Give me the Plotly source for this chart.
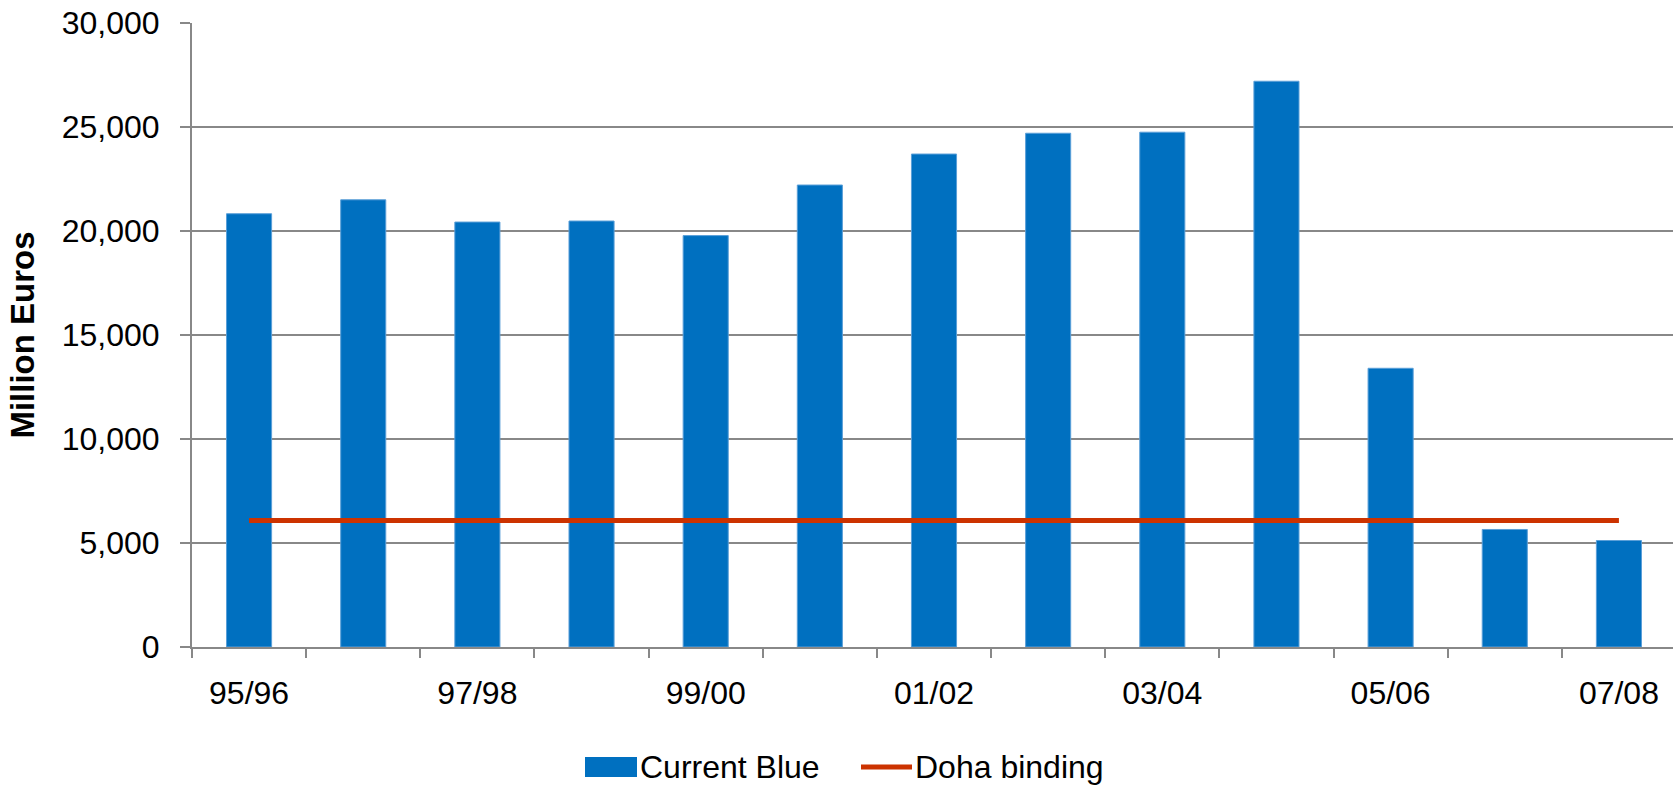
import plotly.graph_objects as go

# ---- data ----
categories = ["95/96", "96/97", "97/98", "98/99", "99/00", "00/01", "01/02",
              "02/03", "03/04", "04/05", "05/06", "06/07", "07/08"]
current_blue = [20830, 21500, 20430, 20480, 19780, 22210, 23700,
                24700, 24750, 27200, 13400, 5650, 5120]
doha_binding = [6080] * len(categories)
y_tick_vals = [0, 5000, 10000, 15000, 20000, 25000, 30000]
series_names = ["Current Blue", "Doha binding"]

BLUE = "#0070C0"
RED = "#CC3300"
GRID = "#888888"
FONT = "Liberation Sans, Arial, sans-serif"

W, H = 1676, 785
L, R, T, B = 192, 0, 23, 138
pw, ph = W - L - R, H - T - B

def px_x(x):
    return (x - L) / pw

def px_y(y):
    return (H - B - y) / ph

xpos = list(range(len(categories)))

fig = go.Figure()
fig.add_trace(go.Bar(
    x=xpos, y=current_blue, name=series_names[0],
    marker=dict(color=BLUE, line=dict(color="#5a9fd8", width=1)),
    showlegend=False,
))
fig.add_trace(go.Scatter(
    x=xpos, y=doha_binding, name=series_names[1], mode="lines",
    line=dict(color=RED, width=5), showlegend=False,
))

# custom legend (swatches + labels)
shapes = [
    dict(type="rect", xref="paper", yref="paper",
         x0=px_x(585), x1=px_x(637), y0=px_y(777), y1=px_y(757),
         fillcolor=BLUE, line=dict(width=0)),
    dict(type="line", xref="paper", yref="paper",
         x0=px_x(861), x1=px_x(912), y0=px_y(767), y1=px_y(767),
         line=dict(color=RED, width=5)),
]
annotations = [
    dict(text=series_names[0], xref="paper", yref="paper",
         x=px_x(638), y=px_y(767), xanchor="left", yanchor="middle",
         showarrow=False, font=dict(family=FONT, size=32, color="black")),
    dict(text=series_names[1], xref="paper", yref="paper",
         x=px_x(913), y=px_y(767), xanchor="left", yanchor="middle",
         showarrow=False, font=dict(family=FONT, size=32, color="black")),
]

fig.update_layout(
    width=W, height=H,
    margin=dict(l=L, r=R, t=T, b=B, autoexpand=False),
    paper_bgcolor="white", plot_bgcolor="white",
    bargap=0.605,
    font=dict(family=FONT, size=32, color="black"),
    shapes=shapes, annotations=annotations,
    showlegend=False,
)

fig.update_xaxes(
    range=[-0.5, len(categories) - 0.5],
    tickmode="array", tickvals=xpos[::2], ticktext=categories[::2],
    ticks="outside", ticklen=0, tickcolor=GRID,
    ticklabelstandoff=17, ticklabeloverflow="allow",
    showline=True, linecolor=GRID, linewidth=2,
    showgrid=False, zeroline=False,
    minor=dict(tickmode="array", tickvals=[i - 0.5 for i in range(len(categories) + 1)],
               ticks="outside", ticklen=9, tickcolor=GRID, tickwidth=2, showgrid=False),
    tickfont=dict(family=FONT, size=32, color="black"),
)
fig.update_yaxes(
    range=[0, 30000],
    tickmode="array", tickvals=y_tick_vals, tickformat=",d",
    ticks="outside", ticklen=10, tickcolor=GRID, tickwidth=2,
    ticklabelstandoff=14, ticklabeloverflow="allow",
    showline=True, linecolor=GRID, linewidth=2,
    showgrid=True, gridcolor=GRID, gridwidth=1.5, zeroline=False,
    tickfont=dict(family=FONT, size=32, color="black"),
    title=dict(text="<b>Million Euros</b>", standoff=17,
               font=dict(family=FONT, size=33, color="black")),
)

fig.write_html("out.html",
               config={"displayModeBar": False},
               post_script="document.body.style.margin='0';document.body.style.overflow='hidden';")
